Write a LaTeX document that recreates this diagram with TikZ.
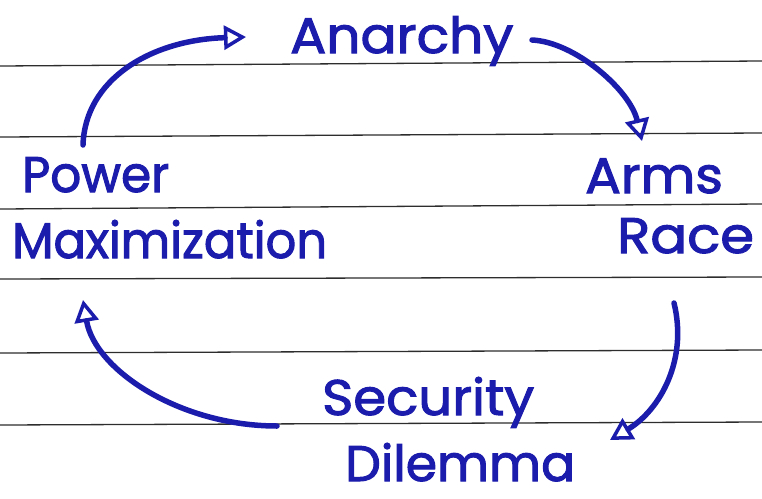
\documentclass[tikz,border=0pt]{standalone}
\usepackage{graphicx}
\usepackage{fontspec}
\setmainfont{Poppins}[FakeBold=2]
\usetikzlibrary{arrows.meta}
\definecolor{ink}{RGB}{28,28,172}
\definecolor{rule}{RGB}{45,45,45}
\newcommand{\wide}[2]{\scalebox{#1}[1]{#2}}

\begin{document}
\begin{tikzpicture}[x=1pt,y=-1pt,
  word/.style={anchor=base west,inner sep=0pt,text=ink,font=\fontsize{50}{50}\selectfont},
  ruling/.style={rule,line width=1.3pt},
  loop/.style={ink,line width=5.5pt,line cap=round,
    -{Triangle[open,length=22pt,width=24pt,line width=3.5pt]}}]
  \useasboundingbox (0,0) rectangle (762,498);
  \foreach \yl/\yr in {66/61,137/133,209/204,279/277,353/350,425/422}
    \draw[ruling] (0,\yl) -- (762,\yr);

  \node[word] (anarchy) at (290,53) {\wide{1.07}{Anarchy}};
  \node[word] (power) at (22,192) {\wide{0.97}{Power}};
  \node[word] (maxim) at (12,258) {\wide{0.96}{Maximization}};
  \node[word] (arms) at (585,193) {\wide{1.06}{Arms}};
  \node[word] (race) at (617,253) {\wide{1.09}{Race}};
  \node[word] (secur) at (322,415) {\wide{1.06}{Security}};
  \node[word] (dilem) at (345,481) {\wide{1.01}{Dilemma}};

  \coordinate (pm-out) at (83,145);
  \coordinate (an-in) at (246,37);
  \coordinate (an-out) at (532,40);
  \coordinate (ar-in) at (642,141);
  \coordinate (ar-out) at (674,303);
  \coordinate (sd-in) at (610,440);
  \coordinate (sd-out) at (277,426);
  \coordinate (pm-in) at (83,300);

  \draw[loop] (pm-out) .. controls (85,80) and (150,40) .. (an-in);
  \draw[loop] (an-out) .. controls (575,42) and (630,90) .. (ar-in);
  \draw[loop] (ar-out) .. controls (688,360) and (660,410) .. (sd-in);
  \draw[loop] (sd-out) .. controls (180,426) and (95,370) .. (pm-in);
\end{tikzpicture}
\end{document}
